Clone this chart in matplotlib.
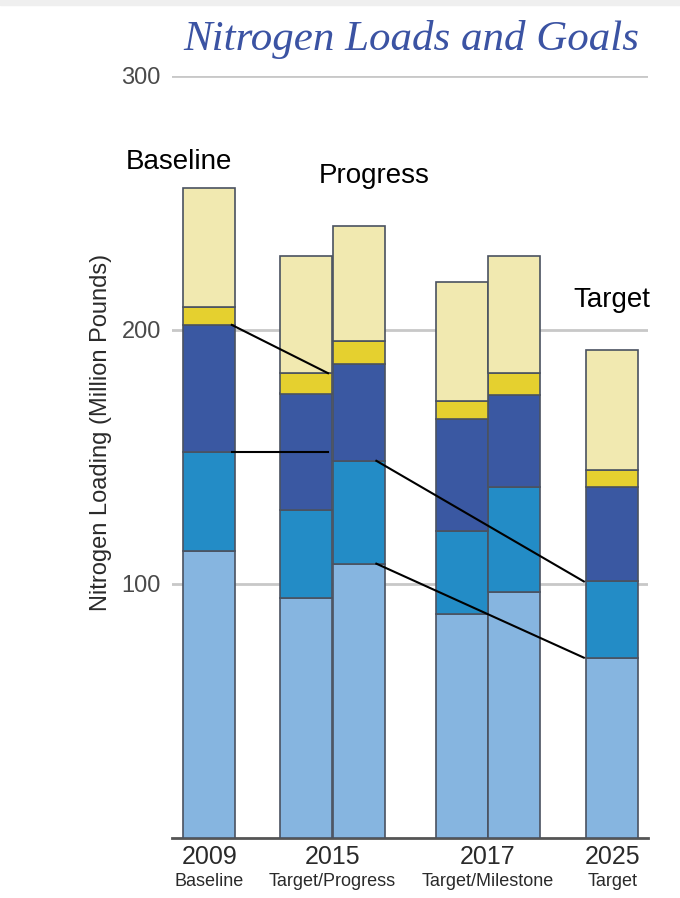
import matplotlib
matplotlib.use('Agg')
import matplotlib.pyplot as plt
from matplotlib.patches import Rectangle
import numpy as np

# Nitrogen loading per source group (million pounds), one entry per column
years = ['2009', '2015', '2017', '2025']
subtitles = ['Baseline', 'Target/Progress', 'Target/Milestone', 'Target']
light = [113, 94.5, 108, 88, 97, 71]
mid = [39, 34.5, 40.5, 33, 41, 30]
dark = [50, 46, 38, 44, 36.5, 37]
yellow = [7, 8, 9, 7, 8.5, 7]
pale = [47, 46, 45.5, 47, 46, 47]

# column positions (two columns for 2015 and 2017)
pos = np.array([0.72, 2.58, 3.60, 5.57, 6.58, 8.47])
group_x = [0.72, 3.09, 6.075, 8.47]

colors = ['#86b5e0', '#238cc6', '#3a58a2', '#e5d02f', '#f1e9b0']
layers = [light, mid, dark, yellow, pale]

fig = plt.figure(figsize=(6.8, 8.98), dpi=100)
ax = fig.add_axes([172/680, 1 - 838/898, 476/680, 762/898])

bottom = np.zeros(len(pos))
tops = []
for vals, c in zip(layers, colors):
    vals = np.array(vals, dtype=float)
    ax.bar(pos, vals, bottom=bottom, width=1.0, color=c,
           edgecolor='#4a5260', linewidth=1.2, zorder=3)
    bottom = bottom + vals
    tops.append(bottom.copy())

# connector lines between columns
ax.plot([pos[0] + 0.43, pos[1] + 0.42], [tops[2][0], tops[3][1]], color='black', lw=1.5, zorder=4)
ax.plot([pos[0] + 0.43, pos[1] + 0.42], [tops[1][0], tops[1][0]], color='black', lw=1.5, zorder=4)
ax.plot([pos[2] + 0.33, pos[5] - 0.55], [tops[1][2], tops[1][5]], color='black', lw=1.5, zorder=4)
ax.plot([pos[2] + 0.33, pos[5] - 0.55], [tops[0][2], tops[0][5]], color='black', lw=1.5, zorder=4)

ax.set_xlim(0, 476/52)
ax.set_ylim(0, 300)
ax.set_yticks([100, 200, 300])
ax.set_yticklabels(['100', '200', '300'])
ax.set_xticks([])
ax.tick_params(axis='y', length=0, pad=8, labelsize=17, labelcolor='#4a4a4a')
for lab in ax.get_yticklabels():
    lab.set_family('Liberation Sans')
for s in ['left', 'right', 'top']:
    ax.spines[s].set_visible(False)
ax.spines['bottom'].set_color('#555555')
ax.spines['bottom'].set_linewidth(2)
ax.grid(axis='y', color='#c8c8c8', linewidth=2, zorder=0)
ax.set_axisbelow(True)

for gx, yr, sub in zip(group_x, years, subtitles):
    ax.text(gx, -0.025, yr, transform=ax.get_xaxis_transform(), ha='center', va='center',
            fontsize=18, family='Liberation Sans', color='#2a2a2a')
    ax.text(gx, -0.057, sub, transform=ax.get_xaxis_transform(), ha='center', va='center',
            fontsize=13, family='Liberation Sans', color='#2a2a2a')

fig.text(101/680, 1 - 432/898, 'Nitrogen Loading (Million Pounds)', rotation=90,
         ha='center', va='center', fontsize=17, family='Liberation Sans', color='#2a2a2a')

fig.text(411/680, 1 - 50/898, 'Nitrogen Loads and Goals', ha='center', va='baseline',
         fontsize=31, family='Liberation Serif', style='italic', color='#3b53a3')

fig.text(179/680, 1 - 162/898, 'Baseline', ha='center', va='center', fontsize=20, family='Liberation Sans')
fig.text(374/680, 1 - 176/898, 'Progress', ha='center', va='center', fontsize=20, family='Liberation Sans')
fig.text(612/680, 1 - 300/898, 'Target', ha='center', va='center', fontsize=20, family='Liberation Sans')

fig.patches.append(Rectangle((0, 1 - 5/898), 1, 5/898, transform=fig.transFigure,
                             color='#efefef', zorder=0))

fig.savefig('out.png', dpi=100)
